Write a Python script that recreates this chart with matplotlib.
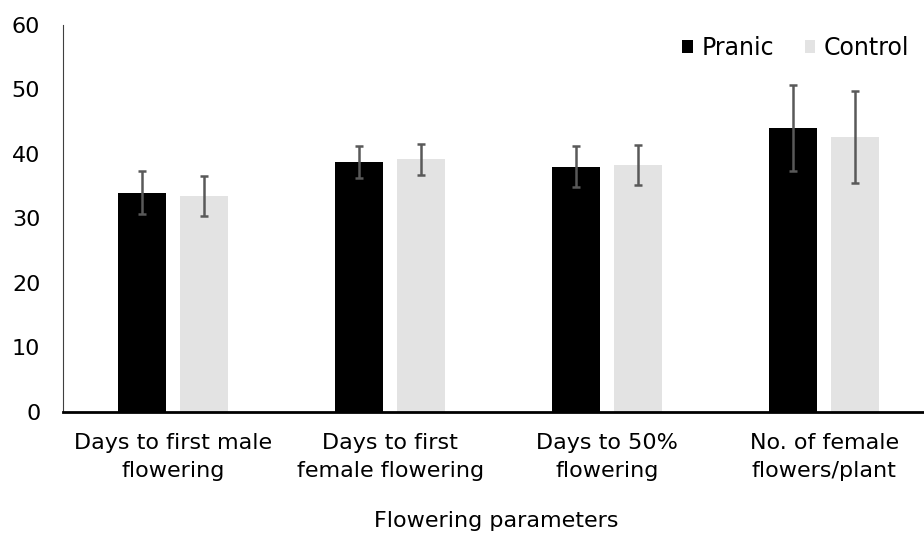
import numpy as np
import matplotlib.pyplot as plt

plt.rcParams['font.family'] = ['DejaVu Sans']

# --- DATEN ---
categories = ["Days to first male\nflowering", "Days to first\nfemale flowering",
              "Days to 50%\nflowering", "No. of female\nflowers/plant"]
pranic = [34.0, 38.8, 38.0, 44.0]
pranic_err = [3.3, 2.5, 3.2, 6.7]
control = [33.5, 39.2, 38.3, 42.6]
control_err = [3.1, 2.4, 3.1, 7.1]

FS = 16

fig = plt.figure(figsize=(9.24, 5.33), dpi=100)
ax = fig.add_axes([62.5 / 924, 1 - 411.7 / 533, 868 / 924, 386.7 / 533])

x = np.arange(len(categories))
w = 0.221
off = 0.1425
err_kw = dict(ecolor='#595959', elinewidth=1.8, capsize=3, capthick=1.8)
ax.bar(x - off, pranic, w, color='black', yerr=pranic_err, error_kw=err_kw, label='Pranic')
ax.bar(x + off, control, w, color='#e3e3e3', yerr=control_err, error_kw=err_kw, label='Control')

ax.set_xlim(-0.51, 3.49)
ax.set_ylim(0, 60)
ax.set_yticks(range(0, 61, 10))
ax.set_xticks(x)
ax.set_xticklabels(categories, fontsize=FS, linespacing=1.55)
ax.tick_params(axis='both', length=0, labelsize=FS)
ax.tick_params(axis='x', pad=15)
ax.tick_params(axis='y', pad=16)

ax.spines['top'].set_visible(False)
ax.spines['right'].set_visible(False)
ax.spines['left'].set_color('#404040')
ax.spines['left'].set_linewidth(0.8)
ax.spines['bottom'].set_color('black')
ax.spines['bottom'].set_linewidth(2)

# Achsentitel unten, knapp über dem Bildrand
fig.text(496 / 924, 1 - 527 / 533, "Flowering parameters", fontsize=FS,
         ha='center', va='baseline')

fig.legend(*ax.get_legend_handles_labels(), loc='upper right',
           bbox_to_anchor=(909 / 924, 1 - 36 / 533), ncol=2, frameon=False,
           fontsize=17, handlelength=0.45, handleheight=0.45, handletextpad=0.35,
           columnspacing=1.3, borderaxespad=0, borderpad=0)

fig.savefig('out.png', dpi=100)
